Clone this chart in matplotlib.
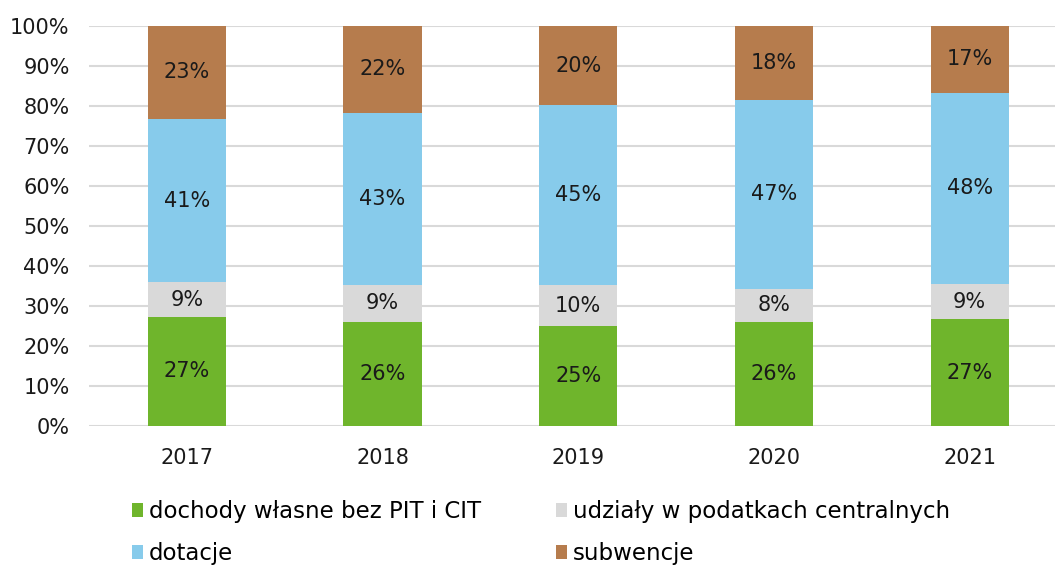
import matplotlib
matplotlib.use("Agg")
import matplotlib.pyplot as plt
import numpy as np

# ----------------------------
# Dane (udział % w dochodach)
# ----------------------------
years = ["2017", "2018", "2019", "2020", "2021"]
dochody_wlasne = [27.3, 26.1, 25.0, 26.1, 26.7]
udzialy_pit_cit = [8.6, 9.1, 10.2, 8.2, 8.8]
dotacje = [40.9, 43.1, 45.0, 47.3, 47.8]
subwencje = [23.2, 21.7, 19.8, 18.4, 16.7]

series = [
    ("dochody własne bez PIT i CIT", dochody_wlasne, "#6fb52c"),
    ("udziały w podatkach centralnych", udzialy_pit_cit, "#d9d9d9"),
    ("dotacje", dotacje, "#87cbeb"),
    ("subwencje", subwencje, "#b67c4d"),
]

plt.rcParams['font.family'] = ['DejaVu Sans']

fig = plt.figure(figsize=(10.55, 5.65), dpi=100)
ax = fig.add_axes([89 / 1055, 1 - 426 / 565, (1055 - 89) / 1055, 400 / 565])

x = np.arange(len(years))
bottom = np.zeros(len(years))
handles = {}
for name, vals, clr in series:
    vals = np.array(vals)
    bars = ax.bar(x, vals, width=0.40, bottom=bottom, color=clr, zorder=3)
    handles[name] = bars
    for xi, b, v in zip(x, bottom, vals):
        ax.text(xi, b + v / 2, f"{round(v):.0f}%", ha='center', va='center',
                fontsize=15, color='#1a1a1a', zorder=4)
    bottom += vals

ax.set_ylim(0, 100)
ax.set_xlim(-0.5, 4.436)
ax.set_yticks(np.arange(0, 101, 10))
ax.set_yticklabels([f"{v}%" for v in range(0, 101, 10)])
ax.set_xticks(x)
ax.set_xticklabels(years)
ax.tick_params(axis='both', length=0, labelsize=15, colors='#1a1a1a')
ax.tick_params(axis='x', pad=16)
ax.tick_params(axis='y', pad=14)
ax.grid(axis='y', color='#d9d9d9', linewidth=1.5, zorder=0)
for s in ax.spines.values():
    s.set_visible(False)
ax.set_axisbelow(True)

# legenda: wiersz 1 zielony/szary, wiersz 2 niebieski/brązowy
order = ["dochody własne bez PIT i CIT", "dotacje",
         "udziały w podatkach centralnych", "subwencje"]
fig.legend([handles[n] for n in order], order, ncol=2,
           loc='upper left', bbox_to_anchor=(132 / 1055, 1 - 500 / 565),
           frameon=False, fontsize=16.5, handlelength=0.5, handleheight=0.55,
           handletextpad=0.25, columnspacing=3.25, labelspacing=0.85,
           borderpad=0, borderaxespad=0)

fig.savefig("out.png", dpi=100)
